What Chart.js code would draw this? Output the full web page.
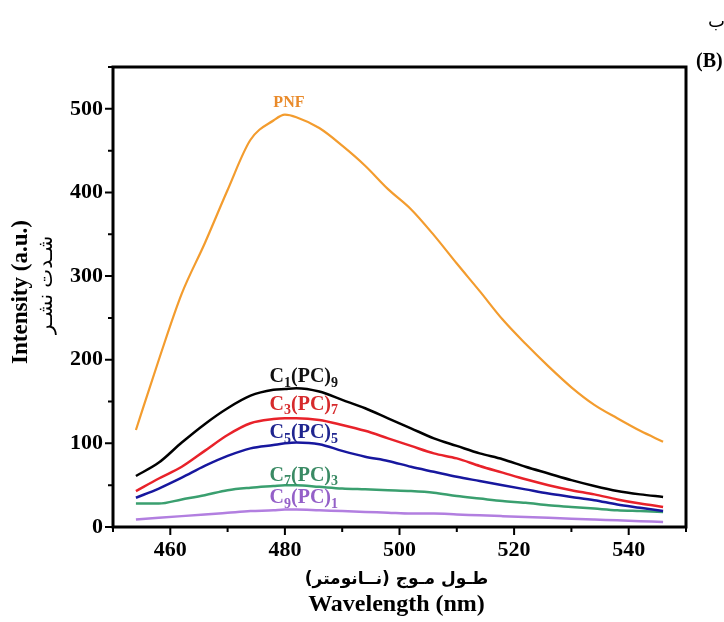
<!DOCTYPE html>
<html>
<head>
<meta charset="utf-8">
<script src="https://cdn.jsdelivr.net/npm/chart.js@4.4.1/dist/chart.umd.min.js"></script>
<style>
  html, body { margin: 0; padding: 0; background: #fff; }
  #wrap { width: 724px; height: 622px; position: relative; }
</style>
</head>
<body>
<div id="wrap"><canvas id="chart"></canvas></div>
<script>
// Emission spectra (wavelength in nm, intensity in a.u.)
const wavelengths = [454, 458, 462, 466, 470, 474, 478, 480, 482, 486, 490, 494, 498,
                     502, 506, 510, 514, 518, 522, 526, 530, 534, 538, 542, 546]

const pnf   = [116, 200, 279, 339, 403, 463, 486, 493, 490, 477, 456, 432, 404,
               380, 349, 315, 282, 248, 219, 192, 167, 146, 130, 115, 102]
const c1pc9 = [61, 77, 101, 123, 142, 157, 164, 165, 166, 162, 152, 142, 130,
               118, 106, 97, 88, 81, 72, 64, 56, 49, 43, 39, 36]
const c3pc7 = [43, 58, 72, 91, 110, 124, 129, 130, 130, 128, 122, 115, 106,
               97, 88, 82, 73, 65, 57, 50, 44, 39, 33, 28, 24]
const c5pc5 = [35, 46, 59, 73, 85, 94, 98, 100, 101, 99, 91, 84, 79,
               72, 66, 60, 55, 50, 45, 40, 36, 32, 27, 23, 19]
const c7pc3 = [28, 28, 33, 38, 44, 47, 49, 50, 50, 48, 46, 45, 44,
               43, 41, 37, 34, 31, 29, 26, 24, 22, 20, 19, 18]
const c9pc1 = [9, 11, 13, 15, 17, 19, 20, 21, 21, 20, 19, 18, 17,
               16, 16, 15, 14, 13, 12, 11, 10, 9, 8, 7, 6]

const seriesNames = ['PNF', 'C_1(PC)_9', 'C_3(PC)_7', 'C_5(PC)_5', 'C_7(PC)_3', 'C_9(PC)_1']
const seriesValues = [pnf, c1pc9, c3pc7, c5pc5, c7pc3, c9pc1]
const lineColors  = ['#f39c2e', '#000000', '#e8222a', '#17179e', '#3a9f6f', '#b27fe0']
const labelColors = ['#e98a2a', '#111111', '#d62a2c', '#1f258f', '#3a8a64', '#9460c8']

// where each series name sits, in data coordinates [nm, a.u.]
const labelAnchors = [[480.7, 508], [483.3, 181], [483.3, 148], [483.3, 114], [483.3, 63], [483.3, 36]]

const FONT = '"Liberation Serif", "Times New Roman", serif'
const FA_FONT = '"DejaVu Sans", sans-serif'

function drawRich(ctx, text, cx, cy, size, color) {
  // "_d" means subscript digit
  const parts = []
  for (let i = 0; i < text.length; i++) {
    if (text[i] === '_') { parts.push([text[i + 1], true]); i++ }
    else if (parts.length && !parts[parts.length - 1][1]) parts[parts.length - 1][0] += text[i]
    else parts.push([text[i], false])
  }
  const subSize = Math.round(size * 0.68)
  let w = 0
  parts.forEach(p => {
    ctx.font = 'bold ' + (p[1] ? subSize : size) + 'px ' + FONT
    p.push(ctx.measureText(p[0]).width)
    w += p[2]
  })
  let x = cx - w / 2
  const base = cy + size * 0.33
  ctx.fillStyle = color
  ctx.textAlign = 'left'
  ctx.textBaseline = 'alphabetic'
  parts.forEach(p => {
    ctx.font = 'bold ' + (p[1] ? subSize : size) + 'px ' + FONT
    ctx.fillText(p[0], x, p[1] ? base + size * 0.22 : base)
    x += p[2]
  })
}

const framePlugin = {
  id: 'frame',
  afterDraw(chart) {
    const { ctx, chartArea: a, scales } = chart
    ctx.save()
    ctx.strokeStyle = '#000'
    ctx.lineWidth = 3
    ctx.strokeRect(a.left, a.top, a.right - a.left, a.bottom - a.top)

    // major / minor ticks, pointing out
    ctx.lineWidth = 2
    ctx.beginPath()
    for (let v = 0; v <= 550; v += 50) {
      const y = scales.y.getPixelForValue(v)
      const len = v % 100 === 0 ? 8 : 5
      ctx.moveTo(a.left - len, y); ctx.lineTo(a.left, y)
    }
    for (let v = 450; v <= 550; v += 10) {
      const x = scales.x.getPixelForValue(v)
      const len = v % 20 === 0 ? 8 : 5
      ctx.moveTo(x, a.bottom); ctx.lineTo(x, a.bottom + len)
    }
    ctx.stroke()

    // series names
    seriesNames.forEach((name, i) => {
      const [nx, ny] = labelAnchors[i]
      drawRich(ctx, name, scales.x.getPixelForValue(nx), scales.y.getPixelForValue(ny),
        i === 0 ? 16 : 20, labelColors[i])
    })

    // axis titles
    ctx.fillStyle = '#000'
    ctx.textAlign = 'center'
    ctx.textBaseline = 'middle'
    const midX = (a.left + a.right) / 2
    const midY = (a.top + a.bottom) / 2
    ctx.font = 'bold 24px ' + FONT
    ctx.fillText('Wavelength (nm)', midX - 3, 605)
    ctx.font = 'bold 17px ' + FA_FONT
    ctx.direction = 'ltr'
    ctx.fillText('طـول مـوج (نــانومتر)', midX - 3, 580)

    ctx.save()
    ctx.translate(21, midY - 5)
    ctx.rotate(-Math.PI / 2)
    ctx.font = 'bold 23px ' + FONT
    ctx.fillText('Intensity (a.u.)', 0, 0)
    ctx.restore()
    ctx.save()
    ctx.translate(47, 285)
    ctx.rotate(-Math.PI / 2)
    ctx.font = '20px ' + FA_FONT
    ctx.direction = 'rtl'
    ctx.textAlign = 'center'
    ctx.fillText('شـدت نشـر', 0, 0)
    ctx.restore()

    // panel marks
    ctx.textAlign = 'left'
    ctx.font = '18px ' + FA_FONT
    ctx.fillText('ب', 708, 22)
    ctx.font = 'bold 20px ' + FONT
    ctx.fillText('(B)', 696, 62)
    ctx.restore()
  }
}

const datasets = seriesValues.map((vals, i) => ({
  label: seriesNames[i],
  data: wavelengths.map((w, k) => ({ x: w, y: vals[k] })),
  borderColor: lineColors[i],
  borderWidth: i === 0 ? 2.2 : 2.5,
  pointRadius: 0,
  fill: false,
  cubicInterpolationMode: 'monotone'
}))

const tickFont = { family: FONT, size: 22, weight: 'bold' }

new Chart(document.getElementById('chart'), {
  type: 'line',
  data: { datasets },
  options: {
    responsive: true,
    maintainAspectRatio: false,
    animation: false,
    layout: { padding: { left: 0, top: 67, right: 38, bottom: 0 } },
    plugins: { legend: { display: false }, tooltip: { enabled: false } },
    scales: {
      x: {
        type: 'linear',
        min: 450,
        max: 550,
        afterFit: s => { s.height = 95 },
        grid: { drawOnChartArea: false, drawTicks: false },
        border: { display: false },
        ticks: {
          stepSize: 10,
          padding: 10,
          color: '#000',
          font: tickFont,
          callback: v => (v % 20 === 0 ? v : '')
        }
      },
      y: {
        min: 0,
        max: 550,
        afterFit: s => { s.width = 113 },
        grid: { drawOnChartArea: false, drawTicks: false },
        border: { display: false },
        ticks: {
          stepSize: 50,
          padding: 10,
          color: '#000',
          font: tickFont,
          callback: v => (v % 100 === 0 ? v : '')
        }
      }
    }
  },
  plugins: [framePlugin]
})
</script>
</body>
</html>
